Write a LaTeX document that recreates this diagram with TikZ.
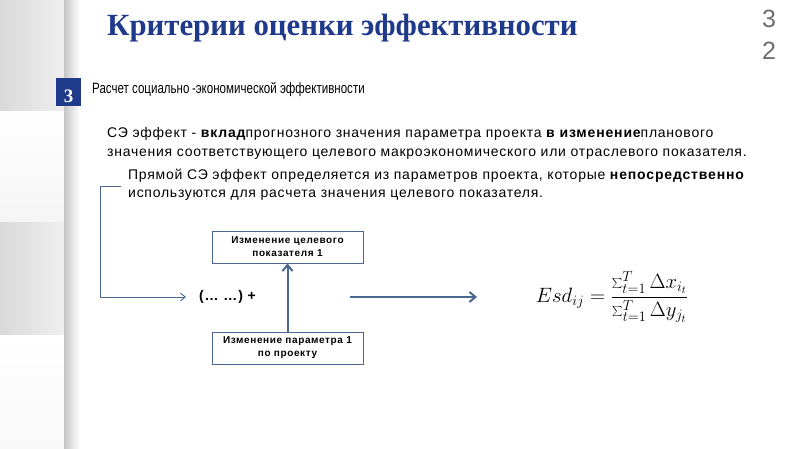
\documentclass[tikz,border=0pt]{standalone}
\usepackage{fontspec}
\setmainfont{Liberation Sans}
\newfontfamily\spaced{Liberation Sans}[LetterSpace=5.3]
\newfontfamily\spacedb{Liberation Sans}[LetterSpace=6]
\newfontfamily\narrow{Liberation Sans}[FakeStretch=0.77]
\newfontfamily\titlefont{Liberation Serif}
\usetikzlibrary{arrows.meta}
\definecolor{navy}{HTML}{1F3A8A}
\definecolor{lineblue}{HTML}{4A6890}
\definecolor{numgray}{HTML}{6E6E6E}
\begin{document}
\begin{tikzpicture}[x=1pt,y=-1pt,
  txt/.style={anchor=base west,inner sep=0pt,font=\spaced\fontsize{14}{18}\selectfont},
  box/.style={draw=lineblue,line width=1pt,minimum width=151pt,minimum height=32pt,inner sep=1pt,
    align=center,font=\spacedb\bfseries\fontsize{10}{13}\selectfont},
  thin/.style={draw=lineblue,line width=0.9pt,-{Straight Barb[length=5pt,width=8pt]}},
  thick/.style={draw=lineblue,line width=2pt,-{Straight Barb[length=6pt,width=10pt]}}]
\useasboundingbox (0,0) rectangle (800,449);
\fill[white] (0,0) rectangle (800,449);
% left decoration
\shade[left color=gray!30,right color=gray!12] (0,0) rectangle (66,112);
\shade[top color=white,bottom color=gray!8] (0,112) rectangle (66,222);
\shade[left color=gray!30,right color=gray!12] (0,222) rectangle (66,335);
\shade[top color=white,bottom color=gray!5] (0,335) rectangle (66,449);
\shade[left color=gray!45,right color=white] (64,0) rectangle (80,449);
% title
\node[anchor=base west,inner sep=0pt,text=navy,font=\titlefont\bfseries\fontsize{30.8}{32}\selectfont] (title) at (107,36) {Критерии оценки эффективности};
\node[anchor=base,inner sep=0pt,text=numgray,font=\fontsize{25}{30}\selectfont] (n3) at (769,28) {3};
\node[anchor=base,inner sep=0pt,text=numgray,font=\fontsize{25}{30}\selectfont] (n2) at (769,60) {2};
% section header
\fill[navy] (56,78) rectangle (81,106);
\node[inner sep=0pt,text=white,font=\titlefont\bfseries\fontsize{19}{20}\selectfont,anchor=base] (num) at (68.5,103) {3};
\node[txt,font=\narrow\fontsize{15}{18}\selectfont] (head) at (92,94) {Расчет социально\,-экономической эффективности};
% paragraph
\node[txt] (l1) at (107,138) {СЭ эффект - {\spacedb\bfseries вклад}прогнозного значения параметра проекта {\spacedb\bfseries в изменение}планового};
\node[txt] (l2) at (107,157) {значения соответствующего целевого макроэкономического или отраслевого показателя.};
\node[txt] (l3) at (128,179) {Прямой СЭ эффект определяется из параметров проекта, которые {\spacedb\bfseries непосредственно}};
\node[txt] (l4) at (128,197) {используются для расчета значения целевого показателя.};
% diagram
\node[box] (b1) at (287.5,247) {Изменение целевого\\показателя 1};
\node[box] (b2) at (287.5,348) {Изменение параметра 1\\по проекту};
\node[anchor=west,inner sep=0pt,font=\spacedb\bfseries\fontsize{14}{16}\selectfont] (dots) at (199,297) {(… …) +};
\coordinate (c0) at (121,186);
\coordinate (c1) at (100,186);
\coordinate (c2) at (100,297);
\coordinate (c3) at (186,297);
\coordinate (a0) at (350,297);
\coordinate (a1) at (477,297);
\draw[thin] (c0) -- (c1) -- (c2) -- (c3);
\draw[thick] (a0) -- (a1);
\draw[thick] (b2.north) -- (b1.south);
\node[inner sep=0pt,font=\fontsize{21.5}{24}\selectfont] (f) at (612,297)
  {$\displaystyle Esd_{ij}=\frac{\sum_{t=1}^{T}\Delta x_{i_t}}{\sum_{t=1}^{T}\Delta y_{j_t}}$};
\end{tikzpicture}
\end{document}
